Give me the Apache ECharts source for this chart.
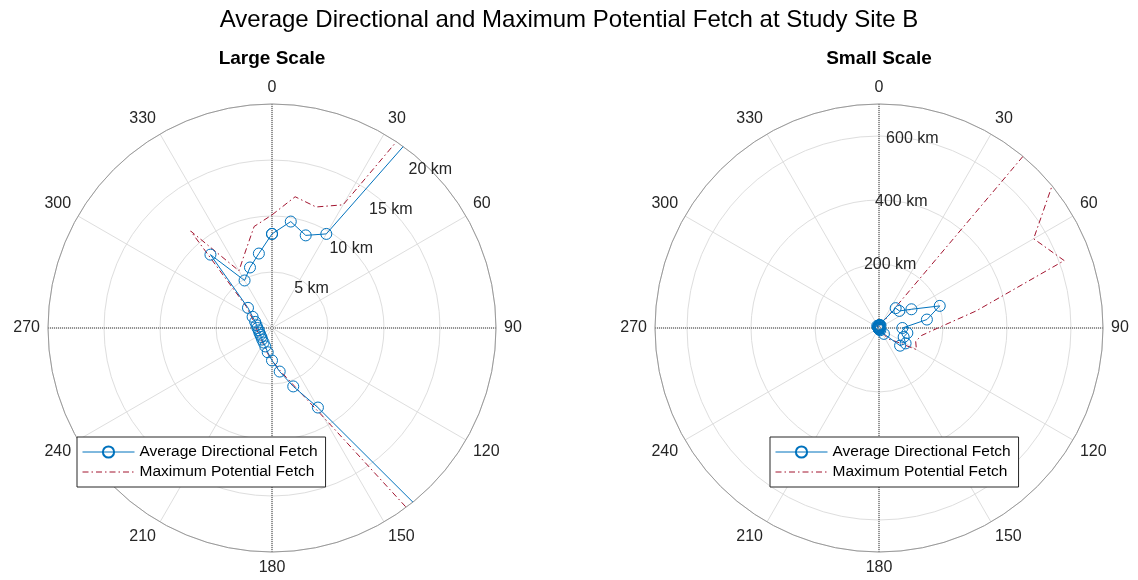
<!DOCTYPE html>
<html>
<head>
<meta charset="utf-8">
<title>Average Directional and Maximum Potential Fetch at Study Site B</title>
<script src="https://cdn.jsdelivr.net/npm/echarts@6.0.0/dist/echarts.min.js"></script>
<style>
  html, body { margin: 0; padding: 0; background: #fff; }
  #chart { width: 1138px; height: 580px; }
</style>
</head>
<body>
<div id="chart"></div>
<script>
// wind direction, degrees clockwise from north
const directions = [0, 10, 20, 30, 40, 50, 60, 70, 80, 90, 100, 110,
  120, 130, 140, 150, 160, 170, 180, 190, 200, 210, 220, 230,
  240, 250, 260, 270, 280, 290, 300, 310, 320, 330, 340, 350];

// average directional fetch (km)
const avgFetch = [8.4, 9.65, 8.8, 9.7, 81, 83, 117, 202, 152, 73, 90, 82,
  96, 86, 24, 8.2, 5.55, 3.95, 2.9, 2.2, 1.75, 1.5, 1.35, 1.25,
  1.2, 1.2, 1.2, 1.3, 1.4, 1.6, 2.0, 2.8, 8.55, 4.9, 5.75, 6.75];

// maximum potential fetch (km)
const maxFetch = [10.1, 11.9, 11.5, 12.7, 730, 712, 558, 616, 309, 184, 135, 122,
  135, 63, 45, 9.2, 5.3, 3.8, 2.85, 2.3, 1.85, 1.6, 1.45, 1.35,
  1.3, 1.3, 1.35, 1.4, 1.55, 1.75, 2.15, 3.0, 11.3, 5.9, 7.1, 9.2];

// radial tick labels
const largeTicks = [5, 10, 15, 20];
const smallTicks = [200, 400, 600];

const BLUE = '#0072BD';
const RED = '#A2142F';
const FONT = '"Liberation Sans", Arial, sans-serif';

const LEFT_C = [272, 328];
const RIGHT_C = [879, 328];
const R = 224;

// polar line data: [radius, angle], closed back to north
function toPolar(vals) {
  const pts = directions.map((d, i) => [vals[i], d]);
  pts.push([vals[0], 360]);
  return pts;
}

const chart = echarts.init(document.getElementById('chart'));

function mainAngle(idx) {
  return {
    polarIndex: idx, type: 'value', min: 0, max: 360, interval: 30,
    startAngle: 90, clockwise: true,
    axisLine: { lineStyle: { color: '#9a9a9a', width: 1 } },
    axisTick: { show: false },
    axisLabel: {
      formatter: v => (v === 360 ? '' : String(v)),
      fontSize: 16, color: '#262626', margin: 8, fontFamily: FONT
    },
    splitLine: { lineStyle: { color: '#dedede', width: 1 } }
  };
}

function crossAngle(idx) {
  return {
    polarIndex: idx, type: 'value', min: 0, max: 360, interval: 90,
    startAngle: 90, clockwise: true,
    axisLine: { show: false }, axisTick: { show: false }, axisLabel: { show: false },
    splitLine: { lineStyle: { color: '#3a3a3a', width: 1, type: [1, 1] } }
  };
}

function labelAngle(idx, start) {
  return {
    polarIndex: idx, type: 'value', min: 0, max: 360, startAngle: start,
    clockwise: true, show: false
  };
}

function plainRadius(idx, max, interval, grid) {
  return {
    polarIndex: idx, type: 'value', min: 0, max: max, interval: interval,
    axisLine: { show: false }, axisTick: { show: false }, axisLabel: { show: false },
    splitLine: { show: grid, lineStyle: { color: '#dedede', width: 1 } }
  };
}

function labelRadius(idx, max, interval, ticks) {
  return {
    polarIndex: idx, type: 'value', min: 0, max: max, interval: interval,
    axisLine: { show: false }, axisTick: { show: false }, splitLine: { show: false },
    axisLabel: {
      margin: 0, align: 'center', verticalAlign: 'middle',
      fontSize: 16, color: '#262626', fontFamily: FONT,
      formatter: v => (ticks.indexOf(v) >= 0 ? v + ' km' : '')
    },
    z: 5
  };
}

function fetchSeries(polarIndex) {
  return [
    {
      name: 'Average Directional Fetch', type: 'line', coordinateSystem: 'polar',
      polarIndex: polarIndex, data: toPolar(avgFetch),
      symbol: 'circle', symbolSize: 11, clip: true,
      lineStyle: { color: BLUE, width: 1 },
      itemStyle: { color: 'rgba(0,0,0,0)', borderColor: BLUE, borderWidth: 1 },
      z: 4
    },
    {
      name: 'Maximum Potential Fetch', type: 'line', coordinateSystem: 'polar',
      polarIndex: polarIndex, data: toPolar(maxFetch),
      symbol: 'none', clip: true,
      lineStyle: { color: RED, width: 1, type: [6, 3, 1.5, 3] },
      itemStyle: { color: 'rgba(0,0,0,0)', borderWidth: 0 },
      z: 3
    }
  ];
}

function legendAt(left) {
  return {
    left: left, top: 437, orient: 'vertical', selectedMode: false,
    data: [
      'Average Directional Fetch',
      { name: 'Maximum Potential Fetch', itemStyle: { opacity: 0 } }
    ],
    backgroundColor: '#fff', borderColor: '#262626', borderWidth: 1, borderRadius: 0,
    padding: [7, 8, 7, 5], itemGap: 4, itemWidth: 52, itemHeight: 14,
    lineStyle: { width: 1 },
    textStyle: { fontSize: 15.5, color: '#000', fontFamily: FONT }
  };
}

chart.setOption({
  animation: false,
  backgroundColor: '#fff',
  textStyle: { fontFamily: FONT },
  title: [
    {
      text: 'Average Directional and Maximum Potential Fetch at Study Site B',
      left: 'center', top: 8, padding: 0,
      textStyle: { fontSize: 24, fontWeight: 'normal', color: '#000', fontFamily: FONT }
    },
    {
      text: 'Large Scale', left: LEFT_C[0], textAlign: 'center', top: 49, padding: 0,
      textStyle: { fontSize: 19, fontWeight: 'bold', color: '#000', fontFamily: FONT }
    },
    {
      text: 'Small Scale', left: RIGHT_C[0], textAlign: 'center', top: 49, padding: 0,
      textStyle: { fontSize: 19, fontWeight: 'bold', color: '#000', fontFamily: FONT }
    }
  ],
  polar: [
    { center: LEFT_C, radius: R },
    { center: LEFT_C, radius: R },
    { center: LEFT_C, radius: R },
    { center: RIGHT_C, radius: R },
    { center: RIGHT_C, radius: R },
    { center: RIGHT_C, radius: R }
  ],
  angleAxis: [
    mainAngle(0), crossAngle(1), labelAngle(2, 45),
    mainAngle(3), crossAngle(4), labelAngle(5, 80)
  ],
  radiusAxis: [
    plainRadius(0, 20, 5, true), plainRadius(1, 20, 5, false), labelRadius(2, 20, 5, largeTicks),
    plainRadius(3, 700, 200, true), plainRadius(4, 700, 200, false), labelRadius(5, 700, 200, smallTicks)
  ],
  legend: [legendAt(77), legendAt(770)],
  series: fetchSeries(0).concat(fetchSeries(3))
});
</script>
</body>
</html>
